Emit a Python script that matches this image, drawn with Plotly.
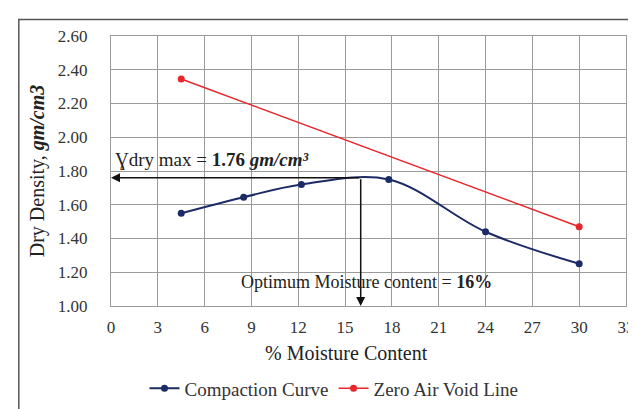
import plotly.graph_objects as go

# Data
moisture = [4.5, 8.5, 12.2, 17.8, 24.0, 30.0]
dry_density = [1.55, 1.645, 1.72, 1.75, 1.44, 1.25]
zav_moisture = [4.5, 30.0]
zav_density = [2.345, 1.47]
omc = 16
mdd = 1.76
x_ticks = [0, 3, 6, 9, 12, 15, 18, 21, 24, 27, 30, 33]
y_ticks = [1.00, 1.20, 1.40, 1.60, 1.80, 2.00, 2.20, 2.40, 2.60]

FONT = "Liberation Serif"
BLUE = "#1c2a66"
RED = "#e8262b"
GRID = "#9a9a9a"

fig = go.Figure()
fig.add_trace(go.Scatter(
    x=moisture, y=dry_density, name="Compaction Curve",
    mode="lines+markers", line=dict(color=BLUE, width=2, shape="spline", smoothing=1.0),
    marker=dict(color=BLUE, size=7)))
fig.add_trace(go.Scatter(
    x=zav_moisture, y=zav_density, name="Zero Air Void Line",
    mode="lines+markers", line=dict(color=RED, width=1.5),
    marker=dict(color=RED, size=7)))

# arrows
fig.add_annotation(x=0, y=mdd, ax=omc, ay=mdd, xref="x", yref="y", axref="x", ayref="y",
                   text="", showarrow=True, arrowhead=2, arrowsize=1.2, arrowwidth=1.5, arrowcolor="#111")
fig.add_annotation(x=omc, y=1.0, ax=omc, ay=mdd, xref="x", yref="y", axref="x", ayref="y",
                   text="", showarrow=True, arrowhead=2, arrowsize=1.2, arrowwidth=1.5, arrowcolor="#111")

fig.add_annotation(x=0.1, y=mdd, xref="x", yref="y", xanchor="left", yanchor="bottom", yshift=6,
                   text=f"Ɣdry max = <b>{mdd:.2f} <i>gm/cm³</i></b>", showarrow=False,
                   font=dict(family=FONT, size=19, color="#222"))
fig.add_annotation(x=omc + 0.4, y=1.145, xref="x", yref="y", xanchor="center", yanchor="middle",
                   text=f"Optimum Moisture content = <b>{omc}%</b>", showarrow=False,
                   font=dict(family=FONT, size=18, color="#222"))

# x axis title
fig.add_annotation(x=0.458, y=-0.173, xref="paper", yref="paper", xanchor="center", yanchor="middle",
                   text="% Moisture Content", showarrow=False,
                   font=dict(family=FONT, size=20, color="#222"))

# outer frame
fig.add_shape(type="rect", xref="paper", yref="paper", x0=-0.179, x1=1.05, y0=-0.5, y1=1.061,
              line=dict(color="#555", width=1.5), layer="below")

fig.update_layout(
    width=636, height=409,
    margin=dict(l=103, r=9, t=28, b=102),
    paper_bgcolor="white", plot_bgcolor="white",
    font=dict(family=FONT, size=17, color="#333"),
    showlegend=True,
    legend=dict(orientation="h", x=0.433, xanchor="center", y=-0.305, yanchor="middle",
                font=dict(family=FONT, size=19, color="#333"), itemwidth=30),
    xaxis=dict(range=[0, 33], tickvals=x_ticks, ticktext=[str(v) for v in x_ticks],
               showgrid=True, gridcolor=GRID, gridwidth=1, zeroline=False,
               showline=True, linecolor=GRID, mirror=True, ticks="", ticklabelstandoff=6,
               tickfont=dict(size=17), ticklabeloverflow="allow"),
    yaxis=dict(range=[1.0, 2.6], tickvals=y_ticks, ticktext=[f"{v:.2f}" for v in y_ticks],
               showgrid=True, gridcolor=GRID, gridwidth=1, zeroline=False,
               showline=True, linecolor=GRID, mirror=True, ticks="", ticklabelstandoff=19,
               tickfont=dict(size=17),
               title=dict(text="Dry Density, <b><i>gm/cm3</i></b>", font=dict(family=FONT, size=20, color="#222"), standoff=7)),
)

fig.write_html("out.html")
